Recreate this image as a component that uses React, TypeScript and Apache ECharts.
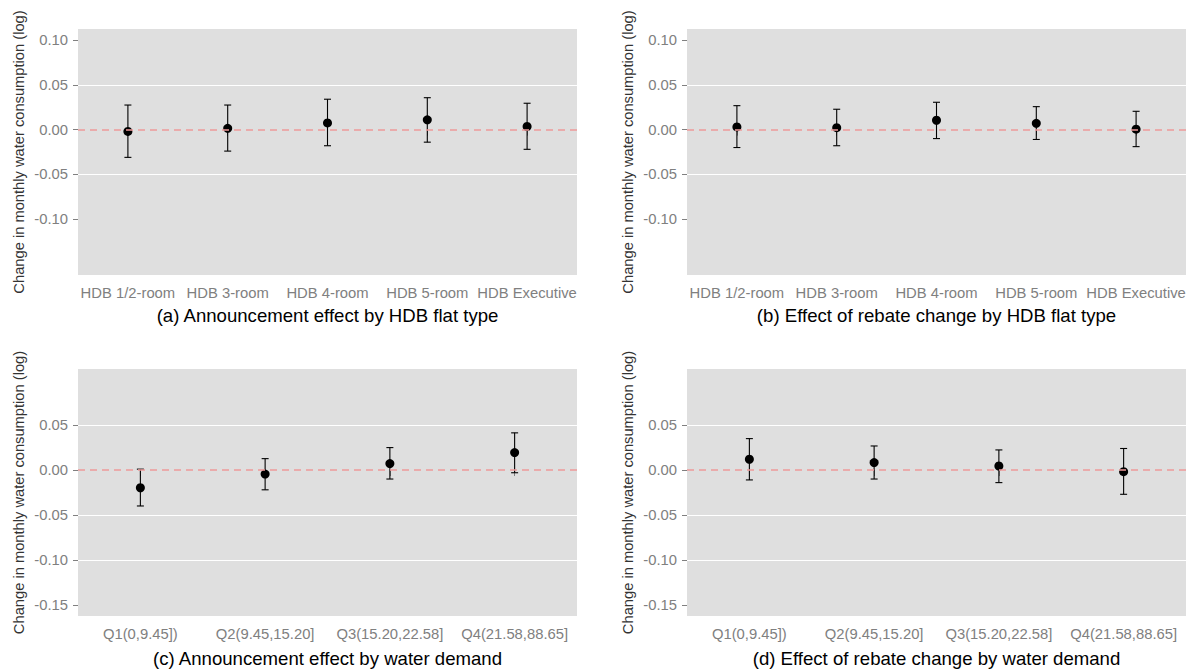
import React, { useEffect, useRef } from "react";
import * as echarts from "echarts";

const flatTypes = ["HDB 1/2-room", "HDB 3-room", "HDB 4-room", "HDB 5-room", "HDB Executive"];
const demandQuartiles = ["Q1(0,9.45])", "Q2(9.45,15.20]", "Q3(15.20,22.58]", "Q4(21.58,88.65]"];

const announceFlatEst = [-0.002, 0.0015, 0.0075, 0.011, 0.0035];
const announceFlatLo = [-0.031, -0.024, -0.018, -0.014, -0.022];
const announceFlatHi = [0.0275, 0.0275, 0.034, 0.0357, 0.0295];

const rebateFlatEst = [0.003, 0.0022, 0.0105, 0.0071, 0.0005];
const rebateFlatLo = [-0.02, -0.018, -0.01, -0.011, -0.019];
const rebateFlatHi = [0.0268, 0.0228, 0.0306, 0.0257, 0.0205];

const announceDemandEst = [-0.0197, -0.0045, 0.0072, 0.0195];
const announceDemandLo = [-0.04, -0.022, -0.01, -0.003];
const announceDemandHi = [0.001, 0.0127, 0.025, 0.0414];

const rebateDemandEst = [0.012, 0.0083, 0.0045, -0.0018];
const rebateDemandLo = [-0.011, -0.01, -0.014, -0.027];
const rebateDemandHi = [0.035, 0.0268, 0.0224, 0.024];

const ticksTop = [-0.1, -0.05, 0, 0.05, 0.1];
const ticksBottom = [-0.15, -0.1, -0.05, 0, 0.05];
const gridLinesTop = [0.05, -0.05];
const gridLinesBottom = [0.05, -0.05, -0.1];
const yMin = -0.1625;
const yMax = 0.1125;

const panelTitles = [
  "(a) Announcement effect by HDB flat type",
  "(b) Effect of rebate change by HDB flat type",
  "(c) Announcement effect by water demand",
  "(d) Effect of rebate change by water demand",
];
const yTitle = "Change in monthly water consumption (log)";

const FONT = "'Liberation Sans', Arial, sans-serif";

export default function App() {
  const ref = useRef<HTMLDivElement>(null);
  useEffect(() => {
    if (!ref.current) return;
    const chart = echarts.init(ref.current, null, { renderer: "svg" });

    const grids = [
      { left: 78, top: 29, width: 499, height: 246 },
      { left: 687, top: 29, width: 499, height: 246 },
      { left: 78, top: 369, width: 499, height: 247 },
      { left: 687, top: 369, width: 499, height: 247 },
    ];
    const panels = [
      { cats: flatTypes, est: announceFlatEst, lo: announceFlatLo, hi: announceFlatHi, ticks: ticksTop, lines: gridLinesTop },
      { cats: flatTypes, est: rebateFlatEst, lo: rebateFlatLo, hi: rebateFlatHi, ticks: ticksTop, lines: gridLinesTop },
      { cats: demandQuartiles, est: announceDemandEst, lo: announceDemandLo, hi: announceDemandHi, ticks: ticksBottom, lines: gridLinesBottom },
      { cats: demandQuartiles, est: rebateDemandEst, lo: rebateDemandLo, hi: rebateDemandHi, ticks: ticksBottom, lines: gridLinesBottom },
    ];

    const gray = "#808080";
    const xAxis = panels.map((p, i) => ({
      type: "category",
      gridIndex: i,
      data: p.cats,
      boundaryGap: true,
      axisLine: { show: false },
      axisTick: { show: true, alignWithLabel: true, length: 6, lineStyle: { color: gray } },
      axisLabel: { interval: 0, color: gray, fontSize: 14.8, fontFamily: FONT, margin: 10 },
      splitLine: { show: false },
    }));
    const yAxis = panels.map((p, i) => ({
      type: "value",
      gridIndex: i,
      min: yMin,
      max: yMax,
      name: yTitle,
      nameLocation: "middle",
      nameRotate: 90,
      nameGap: 52,
      nameTextStyle: { color: "#333", fontSize: 14.7, fontFamily: FONT },
      axisLine: { show: false },
      axisTick: { show: true, length: 5, customValues: p.ticks, lineStyle: { color: gray } },
      axisLabel: {
        color: gray,
        fontSize: 14.8,
        fontFamily: FONT,
        margin: 10,
        customValues: p.ticks,
        formatter: (v: number) => v.toFixed(2),
      },
      splitLine: { show: false },
    }));

    const series: any[] = [];
    panels.forEach((p, i) => {
      series.push({
        type: "scatter",
        xAxisIndex: i,
        yAxisIndex: i,
        data: [],
        silent: true,
        z: 1,
        markLine: {
          silent: true,
          symbol: "none",
          label: { show: false },
          animation: false,
          data: [
            ...p.lines.map((v) => ({ yAxis: v, lineStyle: { color: "#ffffff", width: 1.2, type: "solid" } })),
            { yAxis: 0, lineStyle: { color: "#ee9a9a", width: 1.5, type: [7, 5] } },
          ],
        },
      });
      series.push({
        type: "custom",
        xAxisIndex: i,
        yAxisIndex: i,
        silent: true,
        z: 3,
        encode: { x: 0, y: [1, 2] },
        data: p.cats.map((_, k) => [k, p.lo[k], p.hi[k]]),
        renderItem: (params: any, api: any) => {
          const x = api.value(0);
          const a = api.coord([x, api.value(1)]);
          const b = api.coord([x, api.value(2)]);
          const w = 3.5;
          const st = { stroke: "#000", lineWidth: 1.1 };
          return {
            type: "group",
            children: [
              { type: "line", shape: { x1: a[0], y1: a[1], x2: b[0], y2: b[1] }, style: st },
              { type: "line", shape: { x1: a[0] - w, y1: a[1], x2: a[0] + w, y2: a[1] }, style: st },
              { type: "line", shape: { x1: b[0] - w, y1: b[1], x2: b[0] + w, y2: b[1] }, style: st },
            ],
          };
        },
      });
      series.push({
        type: "scatter",
        xAxisIndex: i,
        yAxisIndex: i,
        silent: true,
        z: 4,
        symbol: "circle",
        symbolSize: 9,
        itemStyle: { color: "#000", opacity: 1 },
        data: p.cats.map((_, k) => [k, p.est[k]]),
      });
    });

    const graphic = panelTitles.map((t, i) => ({
      type: "text",
      x: grids[i].left + grids[i].width / 2,
      y: i < 2 ? 315 : 658,
      silent: true,
      style: {
        text: t,
        textAlign: "center",
        textVerticalAlign: "middle",
        fontSize: 18.6,
        fontFamily: FONT,
        fill: "#000",
      },
    }));

    chart.setOption({
      animation: false,
      backgroundColor: "#ffffff",
      grid: grids.map((g) => ({ ...g, show: true, backgroundColor: "#dfdfdf", borderWidth: 0, containLabel: false })),
      xAxis,
      yAxis,
      series,
      graphic,
    });
    return () => chart.dispose();
  }, []);
  return (
    <div
      ref={ref}
      style={{ position: "absolute", left: 0, top: 0, width: 1193, height: 672 }}
    />
  );
}
